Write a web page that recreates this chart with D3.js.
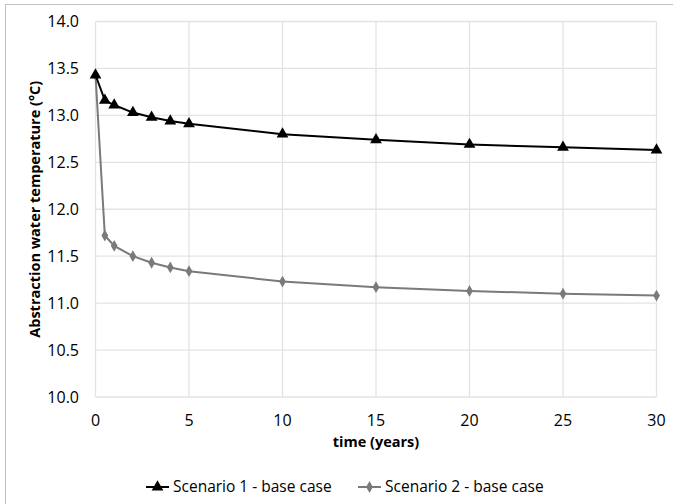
<!DOCTYPE html>
<html>
<head>
<meta charset="utf-8">
<script src="https://cdn.jsdelivr.net/npm/d3@7"></script>
<style>
  body { margin: 0; background: #fff; }
  text { font-family: "Open Sans", "Liberation Sans", sans-serif; fill: #000; }
</style>
</head>
<body>
<script>
const width = 673, height = 504;

const years = [0, 0.5, 1, 2, 3, 4, 5, 10, 15, 20, 25, 30];
const scenario1 = [13.43, 13.16, 13.11, 13.03, 12.98, 12.94, 12.91, 12.80, 12.74, 12.69, 12.66, 12.63];
const scenario2 = [13.43, 11.72, 11.61, 11.50, 11.43, 11.38, 11.34, 11.23, 11.17, 11.13, 11.10, 11.08];
const seriesNames = ["Scenario 1 - base case", "Scenario 2 - base case"];
const xTicks = [0, 5, 10, 15, 20, 25, 30];
const yTicks = [10.0, 10.5, 11.0, 11.5, 12.0, 12.5, 13.0, 13.5, 14.0];

const margin = {left: 95.5, right: 16.5, top: 21.5, bottom: 107};

const svg = d3.select("body").append("svg")
    .attr("width", width)
    .attr("height", height);

// outer frame
svg.append("rect")
    .attr("x", 5.5).attr("y", 4.5)
    .attr("width", width + 10).attr("height", height + 10)
    .attr("fill", "none")
    .attr("stroke", "#bfbfbf");

const x = d3.scaleLinear().domain([0, 30]).range([margin.left, width - margin.right]);
const y = d3.scaleLinear().domain([10, 14]).range([height - margin.bottom, margin.top]);

// grid
svg.append("g")
    .attr("stroke", "#e3e3e3")
    .attr("stroke-width", 1.3)
    .call(g => g.selectAll(".h").data(yTicks).join("line")
        .attr("x1", x(0)).attr("x2", x(30))
        .attr("y1", d => y(d)).attr("y2", d => y(d)))
    .call(g => g.selectAll(".v").data(xTicks).join("line")
        .attr("y1", y(10)).attr("y2", y(14))
        .attr("x1", d => x(d)).attr("x2", d => x(d)));

// tick labels
svg.append("g")
    .attr("font-size", 16)
    .attr("text-anchor", "end")
    .selectAll("text").data(yTicks).join("text")
    .attr("x", 79)
    .attr("y", d => y(d))
    .attr("dy", "0.35em")
    .text(d => d.toFixed(1));

svg.append("g")
    .attr("font-size", 16)
    .attr("text-anchor", "middle")
    .selectAll("text").data(xTicks).join("text")
    .attr("x", d => x(d))
    .attr("y", 426)
    .text(d => d);

// axis titles
svg.append("text")
    .attr("x", (x(0) + x(30)) / 2)
    .attr("y", 447)
    .attr("text-anchor", "middle")
    .attr("font-size", 14.5)
    .attr("font-weight", "bold")
    .text("time (years)");

svg.append("text")
    .attr("transform", `translate(40,${(y(10) + y(14)) / 2}) rotate(-90)`)
    .attr("text-anchor", "middle")
    .attr("font-size", 14.5)
    .attr("font-weight", "bold")
    .text("Abstraction water temperature (°C)");

const line = d3.line().x(d => x(d[0])).y(d => y(d[1]));
const triangle = d3.symbol().type(d3.symbolTriangle).size(60);
const diamond = d3.symbol().type(d3.symbolDiamond).size(40);

const series = [
  {name: seriesNames[0], values: scenario1, color: "#000", sym: triangle},
  {name: seriesNames[1], values: scenario2, color: "#7a7a7a", sym: diamond}
];

// draw scenario 2 first so scenario 1 sits on top at t=0
series.slice().reverse().forEach(s => {
  const pts = years.map((t, i) => [t, s.values[i]]);
  svg.append("path")
      .attr("d", line(pts))
      .attr("fill", "none")
      .attr("stroke", s.color)
      .attr("stroke-width", 2);
  svg.append("g").selectAll("path").data(pts).join("path")
      .attr("d", s.sym())
      .attr("transform", d => `translate(${x(d[0])},${y(d[1])})`)
      .attr("fill", s.color);
});

// legend
const legendX = [146, 358];
const legend = svg.append("g");
series.forEach((s, i) => {
  const lx = legendX[i];
  legend.append("line")
      .attr("x1", lx).attr("x2", lx + 23)
      .attr("y1", 487).attr("y2", 487)
      .attr("stroke", s.color).attr("stroke-width", 2);
  legend.append("path")
      .attr("d", s.sym())
      .attr("transform", `translate(${lx + 11.5},487)`)
      .attr("fill", s.color);
  legend.append("text")
      .attr("x", lx + 27)
      .attr("y", 487)
      .attr("dy", "0.35em")
      .attr("font-size", 15.5)
      .text(s.name);
});
</script>
</body>
</html>
